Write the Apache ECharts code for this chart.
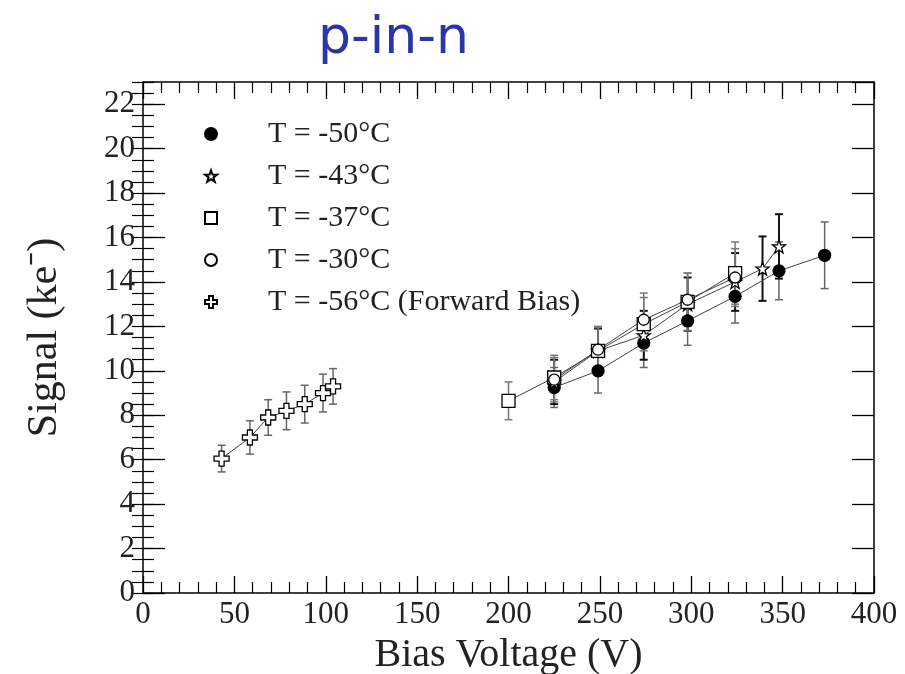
<!DOCTYPE html>
<html>
<head>
<meta charset="utf-8">
<script src="https://cdn.jsdelivr.net/npm/echarts@6/dist/echarts.min.js"></script>
<style>html,body{margin:0;padding:0;background:#fff}#c{width:905px;height:674px}</style>
</head>
<body>
<div id="c"></div>
<script>
// ---- data ----
const xTicks = [0, 50, 100, 150, 200, 250, 300, 350, 400];
const yTicks = [0, 2, 4, 6, 8, 10, 12, 14, 16, 18, 20, 22];

const t50V = [225, 249, 274, 298, 324, 348, 373];
const t50S = [9.25, 10.0, 11.25, 12.25, 13.35, 14.5, 15.2];
const t50E = [0.9, 1.0, 1.1, 1.1, 1.2, 1.3, 1.5];

const t43V = [225, 249, 274, 298, 324, 339, 348];
const t43S = [9.5, 10.9, 11.6, 13.0, 14.0, 14.6, 15.6];
const t43E = [1.0, 1.0, 1.1, 1.2, 1.3, 1.45, 1.45];

const t37V = [200, 225, 249, 274, 298, 324];
const t37S = [8.65, 9.7, 10.9, 12.1, 13.1, 14.4];
const t37E = [0.85, 1.0, 1.1, 1.2, 1.3, 1.4];

const t30V = [225, 249, 274, 298, 324];
const t30S = [9.6, 10.95, 12.3, 13.2, 14.2];
const t30E = [1.0, 1.0, 1.2, 1.2, 1.3];

const fbV = [43, 58.5, 68.5, 78.5, 88.5, 98.5, 104];
const fbS = [6.05, 7.0, 7.9, 8.2, 8.5, 9.0, 9.3];
const fbE = [0.6, 0.75, 0.8, 0.85, 0.85, 0.85, 0.8];

const names = ['T = -50°C', 'T = -43°C', 'T = -37°C', 'T = -30°C', 'T = -56°C (Forward Bias)'];

// ---- styling ----
const SERIF = 'Liberation Serif';
const STAR = 'path://M0,-10 L2.35,-3.24 L9.51,-3.09 L3.8,1.24 L5.88,8.09 L0,4 L-5.88,8.09 L-3.8,1.24 L-9.51,-3.09 L-2.35,-3.24 Z';
const CROSS = 'path://M-3,-9 L3,-9 L3,-3 L9,-3 L9,3 L3,3 L3,9 L-3,9 L-3,3 L-9,3 L-9,-3 L-3,-3 Z';

const sets = [
  {V: t50V, S: t50S, E: t50E, symbol: 'circle', size: 12, fill: '#000', ebColor: '#666', ebW: 1.5},
  {V: t43V, S: t43S, E: t43E, symbol: STAR, size: 13, fill: '#fff', ebColor: '#111', ebW: 2},
  {V: t37V, S: t37S, E: t37E, symbol: 'rect', size: 13, fill: '#fff', ebColor: '#777', ebW: 1.5},
  {V: t30V, S: t30S, E: t30E, symbol: 'circle', size: 11, fill: '#fff', ebColor: '#777', ebW: 1.5},
  {V: fbV, S: fbS, E: fbE, symbol: CROSS, size: 15, fill: '#fff', ebColor: '#666', ebW: 1.5}
];

function errRender(color, w) {
  return function (params, api) {
    const x = api.value(0);
    const lo = api.coord([x, api.value(1)]);
    const hi = api.coord([x, api.value(2)]);
    const cw = 4;
    const st = {stroke: color, lineWidth: w};
    return {type: 'group', children: [
      {type: 'line', shape: {x1: lo[0], y1: lo[1], x2: hi[0], y2: hi[1]}, style: st},
      {type: 'line', shape: {x1: lo[0] - cw, y1: lo[1], x2: lo[0] + cw, y2: lo[1]}, style: st},
      {type: 'line', shape: {x1: hi[0] - cw, y1: hi[1], x2: hi[0] + cw, y2: hi[1]}, style: st}
    ]};
  };
}

const series = [];
sets.forEach((s, i) => {
  series.push({
    type: 'custom', name: names[i] + ' err', xAxisIndex: 0, yAxisIndex: 0, z: 2,
    renderItem: errRender(s.ebColor, s.ebW),
    data: s.V.map((v, k) => [v, s.S[k] - s.E[k], s.S[k] + s.E[k]]),
    silent: true
  });
});
sets.forEach((s, i) => {
  series.push({
    type: 'line', name: names[i], xAxisIndex: 0, yAxisIndex: 0, z: 3,
    data: s.V.map((v, k) => [v, s.S[k]]),
    symbol: s.symbol, symbolSize: s.size,
    lineStyle: {color: '#444', width: 1},
    itemStyle: {color: s.fill, borderColor: '#000', borderWidth: 1.3},
    animation: false
  });
});

const chart = echarts.init(document.getElementById('c'));
chart.setOption({
  animation: false,
  backgroundColor: '#fff',
  title: {
    text: 'p-in-n', left: 313, top: 8,
    textStyle: {fontFamily: 'DejaVu Sans', fontSize: 52, fontWeight: 'normal', color: '#2b35a8'}
  },
  legend: {
    orient: 'vertical', left: 199, top: 114, itemGap: 12,
    itemWidth: 12, itemHeight: 12,
    data: names.map((n, i) => ({name: n, icon: sets[i].symbol})),
    textStyle: {fontFamily: SERIF, fontSize: 30, color: '#222', padding: [0, 0, 0, 46]}
  },
  grid: {left: 143, right: 31, top: 82, bottom: 81, containLabel: false, outerBoundsMode: 'none'},
  xAxis: [
    {
      type: 'value', position: 'bottom', min: xTicks[0], max: xTicks[xTicks.length - 1], interval: 50,
      axisLine: {show: true, onZero: false, lineStyle: {color: '#000', width: 1.5}},
      axisTick: {show: true, inside: true, length: 17, lineStyle: {color: '#000', width: 1.3}},
      minorTick: {show: true, splitNumber: 5, length: 11, lineStyle: {color: '#000', width: 1.2}},
      splitLine: {show: false},
      axisLabel: {fontFamily: SERIF, fontSize: 31, color: '#222', margin: 6},
      name: 'Bias Voltage (V)', nameLocation: 'middle', nameGap: 42,
      nameTextStyle: {fontFamily: SERIF, fontSize: 40, color: '#222'}
    },
    {
      type: 'value', position: 'top', min: 0, max: 400, interval: 50,
      axisLine: {show: true, onZero: false, lineStyle: {color: '#000', width: 1.5}},
      axisTick: {show: true, inside: true, length: 17, lineStyle: {color: '#000', width: 1.3}},
      minorTick: {show: true, splitNumber: 5, length: 11, lineStyle: {color: '#000', width: 1.2}},
      splitLine: {show: false}, axisLabel: {show: false}
    }
  ],
  yAxis: [
    {
      type: 'value', position: 'left', min: 0, max: 23, interval: 2,
      axisLine: {show: true, onZero: false, lineStyle: {color: '#000', width: 1.5}},
      axisTick: {show: true, inside: true, length: 22, lineStyle: {color: '#000', width: 1.3}},
      splitLine: {show: false},
      axisLabel: {fontFamily: SERIF, fontSize: 31, color: '#222', margin: 8, showMaxLabel: false,
        formatter: v => (yTicks.indexOf(v) >= 0 ? String(v) : '')},
      name: 'Signal (ke⁻)', nameLocation: 'middle', nameGap: 77,
      nameTextStyle: {fontFamily: SERIF, fontSize: 42, color: '#222'}
    },
    {
      type: 'value', position: 'left', min: 0, max: 23, interval: 0.5,
      axisLine: {show: false},
      axisTick: {show: true, inside: true, length: 11, lineStyle: {color: '#000', width: 1.2}},
      splitLine: {show: false}, axisLabel: {show: false}
    },
    {
      type: 'value', position: 'right', min: 0, max: 23, interval: 2,
      axisLine: {show: true, onZero: false, lineStyle: {color: '#000', width: 1.5}},
      axisTick: {show: true, inside: true, length: 22, lineStyle: {color: '#000', width: 1.3}},
      splitLine: {show: false}, axisLabel: {show: false}
    },
    {
      type: 'value', position: 'right', min: 0, max: 23, interval: 0.5,
      axisLine: {show: false},
      axisTick: {show: true, inside: true, length: 11, lineStyle: {color: '#000', width: 1.2}},
      splitLine: {show: false}, axisLabel: {show: false}
    }
  ],
  series: series
});
</script>
</body>
</html>
